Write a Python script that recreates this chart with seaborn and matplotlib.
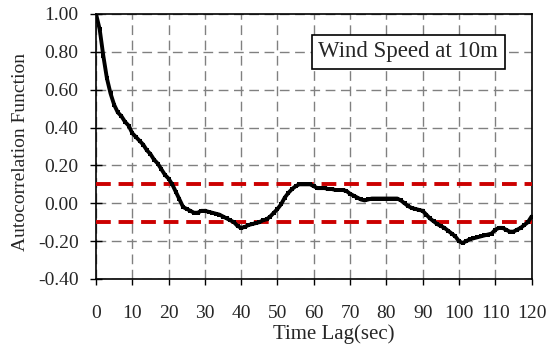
import numpy as np
import pandas as pd
import matplotlib
matplotlib.use("Agg")
import matplotlib.pyplot as plt
import seaborn as sns

lag = list(range(0, 121))
acf = [1.00, 0.92, 0.78, 0.66, 0.58, 0.52, 0.48, 0.46, 0.43, 0.41,
       0.37, 0.35, 0.33, 0.31, 0.28, 0.26, 0.23, 0.21, 0.18, 0.15,
       0.13, 0.10, 0.06, 0.02, -0.02, -0.03, -0.04, -0.05, -0.05, -0.04,
       -0.04, -0.045, -0.05, -0.055, -0.06, -0.07, -0.08, -0.09, -0.10, -0.12,
       -0.13, -0.125, -0.115, -0.11, -0.105, -0.10, -0.09, -0.085, -0.07, -0.05,
       -0.03, -0.005, 0.03, 0.055, 0.075, 0.09, 0.10, 0.10, 0.10, 0.10,
       0.09, 0.08, 0.08, 0.08, 0.075, 0.075, 0.07, 0.07, 0.07, 0.065,
       0.05, 0.04, 0.03, 0.02, 0.015, 0.02, 0.025, 0.025, 0.025, 0.025,
       0.025, 0.025, 0.025, 0.025, 0.015, 0.0, -0.015, -0.025, -0.03, -0.035,
       -0.04, -0.06, -0.08, -0.095, -0.11, -0.12, -0.13, -0.145, -0.16, -0.175,
       -0.20, -0.21, -0.20, -0.19, -0.185, -0.18, -0.175, -0.17, -0.165, -0.16,
       -0.14, -0.13, -0.13, -0.14, -0.15, -0.15, -0.14, -0.13, -0.115, -0.10,
       -0.07]
conf_limits = [0.1, -0.1]
x_ticks = list(range(0, 121, 10))
y_ticks = [1.0, 0.8, 0.6, 0.4, 0.2, 0.0, -0.2, -0.4]

sns.set_style("white")
plt.rcParams['font.family'] = ['Liberation Serif', 'DejaVu Serif']

fig = plt.figure(figsize=(5.56, 3.58), dpi=100)
ax = fig.add_axes([0.1727, 0.2207, 0.956 - 0.1727, 0.961 - 0.2207])

df = pd.DataFrame({"lag": lag, "acf": acf})
sns.lineplot(data=df, x="lag", y="acf", ax=ax, color="black", linewidth=2.8,
             marker="s", markersize=3.5, markeredgewidth=0, zorder=4)

for c in conf_limits:
    ax.axhline(c, color="#cc0000", linewidth=2.8, dashes=(3.8, 2.0), zorder=3)

ax.set_xlim(0, 120)
ax.set_ylim(-0.4, 1.0)
ax.set_xticks(x_ticks)
ax.set_yticks(y_ticks)
ax.set_xticklabels([str(t) for t in x_ticks])
ax.set_yticklabels([f"{v:.2f}" for v in y_ticks])
ax.grid(True, color="#808080", linestyle=(0, (7, 4)), linewidth=1.0)
ax.tick_params(axis="x", direction="out", length=4, width=1, labelsize=14, pad=15, color="black", bottom=True)
ax.tick_params(axis="y", direction="inout", length=9, width=1, labelsize=14, pad=8, color="black", left=True)
for s in ax.spines.values():
    s.set_color("black")
    s.set_linewidth(1.2)

ax.set_xlabel("Time Lag(sec)", fontsize=15)
ax.set_ylabel("Autocorrelation Function", fontsize=14)
ax.xaxis.set_label_coords(0.545, -0.17)
ax.yaxis.set_label_coords(-0.155, 0.48)
ax.text(0.717, 0.858, "Wind Speed at 10m", transform=ax.transAxes, ha="center", va="center",
        fontsize=16.5, bbox=dict(boxstyle="square,pad=0.28", facecolor="white", edgecolor="black", linewidth=1.2),
        zorder=6)

fig.savefig("out.png", dpi=100)
